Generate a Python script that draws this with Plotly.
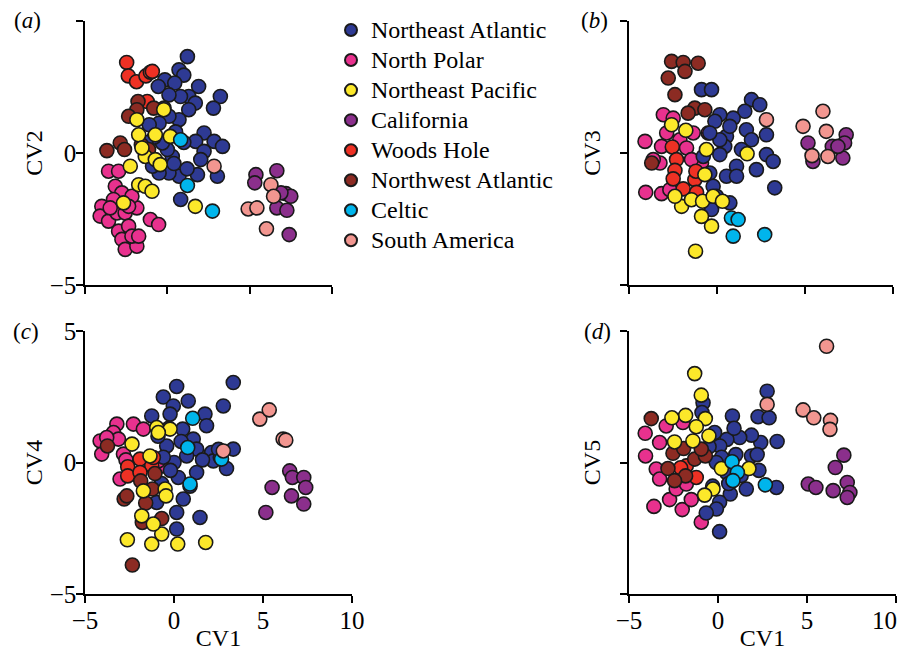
import plotly.graph_objects as go

# ---------------- data ----------------
GROUPS = ["Northeast Atlantic", "North Polar", "Northeast Pacific", "California",
          "Woods Hole", "Northwest Atlantic", "Celtic", "South America"]

X_TICKS = [-5, 0, 5, 10]
X_TICK_TEXT = ["\u22125", "0", "5", "10"]
Y_TICKS = [-5, 0, 5]
PANEL_LABELS = ["(<i>a</i>)", "(<i>b</i>)", "(<i>c</i>)", "(<i>d</i>)"]
Y_TITLES = ["CV2", "CV3", "CV4", "CV5"]
X_TITLE = "CV1"

# Panel (a): CV1 vs CV2
A_NE_ATLANTIC = [(1.22, 3.65), (0.71, 3.15), (1.00, 2.95), (-0.15, 2.77), (-0.55, 2.52), (0.45, 2.65),
                 (1.90, 2.52), (3.22, 2.14), (2.80, 1.70), (1.30, 2.14), (1.70, 1.89), (0.80, 2.14),
                 (0.10, 2.20), (1.30, 1.64), (0.71, 1.26), (0.10, 1.39), (-0.50, 1.13), (-1.10, 1.07),
                 (2.23, 0.76), (2.84, 0.44), (3.35, 0.25), (1.72, 0.44), (2.23, 0.06), (2.03, -0.25),
                 (1.83, -0.82), (3.04, -0.88), (0.71, -0.88), (0.81, -1.76), (0.10, -0.76), (-0.50, -0.76),
                 (-0.90, -0.50), (0.30, -0.13), (0.00, 0.13), (-0.30, 0.38), (-0.80, 0.60), (1.00, 0.40),
                 (0.50, 0.80), (-0.20, 1.70), (0.40, -0.40), (-1.30, 0.40), (1.20, -0.60)]
A_NORTH_POLAR = [(-3.57, -0.69), (-2.96, -0.69), (-3.16, -1.26), (-2.76, -1.51), (-3.27, -1.76), (-3.98, -2.02),
                 (-4.08, -2.39), (-3.57, -2.58), (-3.06, -2.27), (-2.56, -2.27), (-1.85, -2.08), (-2.15, -1.64),
                 (-1.03, -2.52), (-0.53, -2.71), (-2.96, -2.96), (-2.35, -2.77), (-2.76, -3.27), (-2.56, -3.65),
                 (-1.85, -3.53), (-2.15, -3.15), (-1.74, -3.15), (-3.47, -2.08), (-2.35, -2.02)]
A_NE_PACIFIC = [(-0.22, 1.64), (-1.85, 1.26), (-1.74, 0.69), (-0.73, 0.69), (0.18, 0.63), (-1.34, -0.13),
                (-0.73, -0.25), (-0.43, -0.44), (-2.25, -0.50), (-1.74, -1.20), (-1.34, -1.26), (-0.93, -1.45),
                (-2.66, -1.89), (1.70, -2.02), (-1.54, 0.19)]
A_CALIFORNIA = [(5.38, -0.82), (6.65, -0.67), (5.31, -1.13), (7.20, -1.54), (7.50, -1.64), (6.65, -2.08),
                (7.26, -2.17), (7.40, -3.09), (6.90, -1.51)]
A_WOODS_HOLE = [(-2.47, 3.43), (-2.37, 2.92), (-1.87, 2.70), (-1.30, 2.92), (-1.03, 3.06), (-1.22, 1.95),
                (-0.91, 3.09)]
A_NW_ATLANTIC = [(-1.78, 1.95), (-1.85, 1.64), (-2.35, 1.39), (-0.83, 1.70), (-3.67, 0.09), (-2.86, 0.38),
                 (-2.60, 0.13), (-1.58, 0.31), (-1.14, 0.13)]
A_CELTIC = [(0.81, 0.50), (1.22, -1.23), (2.74, -2.20)]
A_S_AMERICA = [(2.84, -0.50), (4.91, -2.12), (5.44, -2.08), (6.29, -1.20), (6.45, -1.64), (6.02, -2.87)]

# Panel (b): CV1 vs CV3
B_NE_ATLANTIC = [(-0.88, 2.40), (-0.31, 2.40), (1.96, 2.02), (2.43, 1.83), (1.58, 1.58), (0.92, 1.32),
                 (0.16, 1.45), (-0.12, 1.20), (1.67, 0.88), (1.96, 0.50), (2.81, 0.69), (0.54, 0.63),
                 (0.44, 0.25), (2.81, -0.06), (3.19, -0.32), (2.24, -0.63), (1.11, -0.50), (0.54, -0.88),
                 (-0.41, -0.76), (-0.22, -1.26), (0.73, -1.89), (-0.31, -2.14), (3.28, -1.32), (1.39, 0.13),
                 (1.11, -0.88), (0.16, -0.06), (0.16, 0.50), (0.73, 1.01), (-0.41, 0.76), (-0.78, -0.13),
                 (-0.03, -1.64)]
B_NORTH_POLAR = [(-4.09, 0.44), (-4.05, -1.49), (-3.15, -1.54), (-3.05, 1.45), (-2.49, 1.32), (-3.15, 0.25),
                 (-3.24, -0.38), (-2.86, 0.76), (-2.11, 0.50), (-1.35, 0.76), (-0.50, 0.76), (-0.88, -0.38),
                 (-1.73, 0.19), (-1.45, -0.25), (-3.62, -0.25), (-2.68, -1.39)]
B_NE_PACIFIC = [(-0.60, 0.13), (1.71, -0.03), (-1.22, -3.72), (-0.31, -2.77), (-0.88, -2.40), (-2.01, -2.02),
                (-2.39, -1.64), (-1.45, -1.77), (-0.82, -1.83), (-0.22, -1.64), (0.31, -1.83), (-0.69, -0.82),
                (-2.58, 1.07), (-1.77, 0.86)]
B_CALIFORNIA = [(5.17, 0.38), (6.55, 0.25), (7.34, 0.69), (7.25, 0.38), (7.15, -0.19), (5.45, -0.32),
                (6.87, 0.25)]
B_WOODS_HOLE = [(-2.54, 0.23), (-2.30, -0.25), (-2.39, -0.66), (-2.49, -0.98), (-1.92, -1.36), (-1.26, -1.01),
                (-1.16, -1.49), (-1.20, -0.69)]
B_NW_ATLANTIC = [(-2.58, 3.47), (-1.92, 3.43), (-1.07, 3.40), (-1.82, 3.09), (-2.77, 2.84), (-2.39, 2.21),
                 (-1.26, 1.70), (-0.69, 1.64), (-1.64, 1.51), (-3.71, -0.38)]
B_CELTIC = [(0.82, -2.46), (1.20, -2.52), (0.92, -3.15), (2.71, -3.09)]
B_S_AMERICA = [(2.81, 1.26), (4.89, 1.01), (6.02, 1.58), (6.21, 0.82), (5.40, -0.10), (6.30, -0.13)]

# Panel (c): CV1 vs CV4
C_NE_ATLANTIC = [(0.15, 2.89), (-0.60, 2.49), (0.80, 2.34), (-0.04, 2.15), (3.33, 3.04), (2.77, 2.15),
                 (-1.25, 1.77), (-0.22, 1.84), (1.74, 1.84), (1.83, 1.40), (0.49, 1.27), (-0.30, 1.30),
                 (1.08, 0.89), (1.27, 0.51), (2.11, 0.38), (3.33, 0.51), (2.21, 0.06), (2.95, -0.23),
                 (1.27, -0.38), (0.24, -0.57), (0.52, -1.39), (0.15, -1.90), (1.46, -2.09), (0.15, -2.53),
                 (-0.97, -1.52), (-0.41, 0.63), (0.71, 0.25), (0.00, 0.00), (-0.60, 0.20), (0.40, 0.80),
                 (-0.90, 1.00), (2.60, 0.20), (1.60, 0.10), (-0.20, -0.30), (0.90, -0.90), (-0.70, -0.80),
                 (2.50, 0.50)]
C_NORTH_POLAR = [(-4.15, 0.82), (-4.06, 0.32), (-3.21, 1.46), (-3.40, 1.14), (-3.12, 0.89), (-2.28, 1.46),
                 (-1.72, 1.27), (-2.84, 0.32), (-3.03, -0.63), (-0.60, -0.13), (-0.88, 0.06), (-3.78, 0.95),
                 (-2.70, 0.10)]
C_NE_PACIFIC = [(-2.36, 0.70), (-0.97, 1.33), (-0.22, 1.27), (-0.88, 1.14), (-1.35, 0.25), (-0.50, -1.01),
                (-0.45, -1.27), (-1.72, -1.08), (-1.81, -2.03), (-0.69, -2.72), (-1.16, -2.34), (-2.62, -2.94),
                (-1.25, -3.10), (0.21, -3.10), (1.78, -3.04)]
C_CALIFORNIA = [(6.50, -0.32), (6.65, -0.57), (7.29, -0.57), (7.40, -0.95), (6.60, -1.27), (7.29, -1.58),
                (5.51, -0.95), (5.16, -1.90)]
C_WOODS_HOLE = [(-1.91, 0.13), (-2.60, -0.16), (-2.60, -0.51), (-1.25, -0.13), (-1.16, 0.19), (-1.91, -0.38)]
C_NW_ATLANTIC = [(-3.74, 0.63), (-1.07, -0.42), (-1.87, -0.70), (-1.21, -1.01), (-2.80, -1.39), (-2.65, -1.27),
                 (-1.59, -1.54), (-1.78, -2.28), (-0.69, -2.13), (-2.34, -3.90)]
C_CELTIC = [(1.05, 1.68), (0.77, 0.57), (0.90, -0.82), (2.67, 0.13)]
C_S_AMERICA = [(4.82, 1.65), (5.35, 2.00), (6.13, 0.89), (6.28, 0.85), (2.77, 0.44)]

# Panel (d): CV1 vs CV5
D_NE_ATLANTIC = [(2.76, 2.71), (2.25, 1.74), (2.87, 1.70), (0.81, 1.77), (3.32, 0.80), (2.40, 0.76),
                 (1.88, 1.04), (1.22, 0.95), (0.50, 0.88), (0.10, 0.63), (1.88, 0.25), (2.30, -0.30),
                 (1.59, -1.01), (0.69, -1.20), (0.09, -1.51), (-0.09, -1.77), (-0.66, -1.92), (0.09, -2.63),
                 (3.28, -0.95), (-0.84, 2.27), (0.47, -0.38), (-0.19, 1.14), (-0.50, 0.60), (0.20, 0.20),
                 (1.00, 0.30), (-0.90, 1.90), (0.60, -0.80), (-0.30, -0.90), (1.30, -0.50), (-0.10, 0.00),
                 (0.90, 1.30), (2.20, 0.30)]
D_NORTH_POLAR = [(-4.09, 1.11), (-4.07, 0.25), (-3.60, -1.67), (-2.72, -1.41), (-2.01, -1.79), (-1.50, -1.41),
                 (-0.94, -2.27), (-3.47, -0.25), (-3.28, -0.63), (-2.91, 1.39), (-1.97, 1.52), (-2.35, -1.01),
                 (-1.78, -0.82), (-3.28, 0.76)]
D_NE_PACIFIC = [(-1.31, 3.38), (-0.94, 2.56), (-1.82, 1.79), (-2.59, 1.70), (-0.71, 1.67), (-1.22, 1.36),
                (-0.51, 1.01), (-2.44, 0.78), (-1.41, 0.82), (0.19, -0.23), (1.74, -0.23), (-0.28, -1.01),
                (-0.75, -1.24)]
D_CALIFORNIA = [(7.07, 0.28), (6.59, -0.19), (5.07, -0.82), (5.50, -0.95), (6.47, -1.07), (7.26, -0.76),
                (7.41, -1.14), (7.26, -1.33)]
D_WOODS_HOLE = [(-1.22, -0.57), (-1.78, -0.13), (-2.10, -0.20)]
D_NW_ATLANTIC = [(-3.75, 1.67), (-2.81, -0.23), (-2.53, 0.35), (-1.93, 0.53), (-1.31, 0.13), (-0.71, 0.25),
                 (-1.82, -0.51), (-2.44, -0.69), (-0.94, 0.51)]
D_CELTIC = [(0.79, 0.03), (1.09, -0.38), (0.84, -0.69), (2.66, -0.85)]
D_S_AMERICA = [(6.10, 4.42), (2.76, 2.21), (4.78, 2.00), (5.38, 1.70), (6.32, 1.60), (6.29, 1.26)]

PANELS = [
    [A_NE_ATLANTIC, A_NORTH_POLAR, A_NE_PACIFIC, A_CALIFORNIA, A_WOODS_HOLE, A_NW_ATLANTIC, A_CELTIC, A_S_AMERICA],
    [B_NE_ATLANTIC, B_NORTH_POLAR, B_NE_PACIFIC, B_CALIFORNIA, B_WOODS_HOLE, B_NW_ATLANTIC, B_CELTIC, B_S_AMERICA],
    [C_NE_ATLANTIC, C_NORTH_POLAR, C_NE_PACIFIC, C_CALIFORNIA, C_WOODS_HOLE, C_NW_ATLANTIC, C_CELTIC, C_S_AMERICA],
    [D_NE_ATLANTIC, D_NORTH_POLAR, D_NE_PACIFIC, D_CALIFORNIA, D_WOODS_HOLE, D_NW_ATLANTIC, D_CELTIC, D_S_AMERICA],
]

# ---------------- styles ----------------
COLORS = ["#2E3A94", "#E8318E", "#FCE82A", "#8B2F8C", "#EE3124", "#8C2B23", "#00B5EC", "#F29690"]
DRAW_ORDER = [1, 0, 4, 5, 2, 6, 3, 7]
FONT = "Liberation Serif, Times New Roman, serif"
LEGEND_TEXT_PX = 24
TICK_PX = 25

# the page body has an 8px margin, so the figure is 16px smaller than the window
W, H = 892, 643
# pixel boxes of each panel inside the figure: (left, right, top, bottom)
BOXES = [(77, 324, 13, 277), (621, 885, 13, 277), (77, 344, 323, 586), (621, 888, 323, 586)]
LABEL_POS = [(19, 12), (586, 13), (18, 323), (589, 323)]
TICK_LABEL_ROW = 612  # vertical centre of the bottom tick-label row (figure px)

fig = go.Figure()

for p, groups in enumerate(PANELS):
    ax = "" if p == 0 else str(p + 1)
    for g in DRAW_ORDER:
        pts = groups[g]
        fig.add_trace(go.Scatter(
            x=[q[0] for q in pts], y=[q[1] for q in pts],
            mode="markers",
            name='<span style="font-size:%dpx">%s</span>' % (LEGEND_TEXT_PX, GROUPS[g]),
            legendgroup=GROUPS[g], legendrank=g + 1,
            showlegend=(p == 0),
            marker=dict(size=14, color=COLORS[g], line=dict(color="#1a1a1a", width=1.6)),
            xaxis="x" + ax, yaxis="y" + ax, cliponaxis=False,
        ))

layout = dict(
    width=W, height=H, margin=dict(l=0, r=0, t=0, b=0, autoexpand=False),
    template="none",
    paper_bgcolor="white", plot_bgcolor="white",
    font=dict(family=FONT, size=24, color="black"),
    showlegend=True,
    legend=dict(x=323 / W, y=1 - 2 / H, xanchor="left", yanchor="top",
                font=dict(family=FONT, size=20.8, color="black"),
                itemsizing="constant", tracegroupgap=0, bgcolor="rgba(0,0,0,0)", borderwidth=0),
)

axis_common = dict(showline=True, linecolor="black", linewidth=1.5, ticks="outside", ticklen=7,
                   tickwidth=1.5, tickcolor="black", showgrid=False, zeroline=False, automargin=False,
                   tickfont=dict(family=FONT, size=TICK_PX, color="black"))

annotations = []
for p, (l, r, t, b) in enumerate(BOXES):
    ax = "" if p == 0 else str(p + 1)
    show_x_labels = p >= 2
    show_y_labels = p in (0, 2)
    tick_text = list(X_TICK_TEXT)
    if p == 3:
        # the last label of (d) sits at the page edge: it is drawn right-aligned to its tick below
        tick_text[-1] = ""
        annotations.append(dict(text=X_TICK_TEXT[-1], x=X_TICKS[-1], xref="x4", xanchor="right", xshift=3,
                                y=1 - TICK_LABEL_ROW / H, yref="paper", yanchor="middle", showarrow=False,
                                font=dict(family=FONT, size=TICK_PX, color="black")))
    xa = dict(axis_common, domain=[l / W, r / W], range=[-5, 10], tickmode="array",
              tickvals=X_TICKS, ticktext=tick_text,
              showticklabels=show_x_labels, anchor="y" + ax, ticklabelstandoff=-4)
    if show_x_labels:
        xa["title"] = dict(text=X_TITLE, standoff=12, font=dict(family=FONT, size=24))
    ya = dict(axis_common, domain=[1 - b / H, 1 - t / H], range=[-5, 5], tickvals=Y_TICKS,
              showticklabels=show_y_labels, anchor="x" + ax, ticklabelstandoff=-5,
              title=dict(text=Y_TITLES[p], standoff=0 if show_y_labels else 13,
                         font=dict(family=FONT, size=24)))
    layout["xaxis" + ax] = xa
    layout["yaxis" + ax] = ya
    lx, ly = LABEL_POS[p]
    annotations.append(dict(text=PANEL_LABELS[p], x=lx / W, y=1 - ly / H, xref="paper", yref="paper",
                            xanchor="center", yanchor="middle", showarrow=False,
                            font=dict(family=FONT, size=23, color="black")))

layout["annotations"] = annotations
fig.update_layout(**layout)
fig.write_html("out.html")
